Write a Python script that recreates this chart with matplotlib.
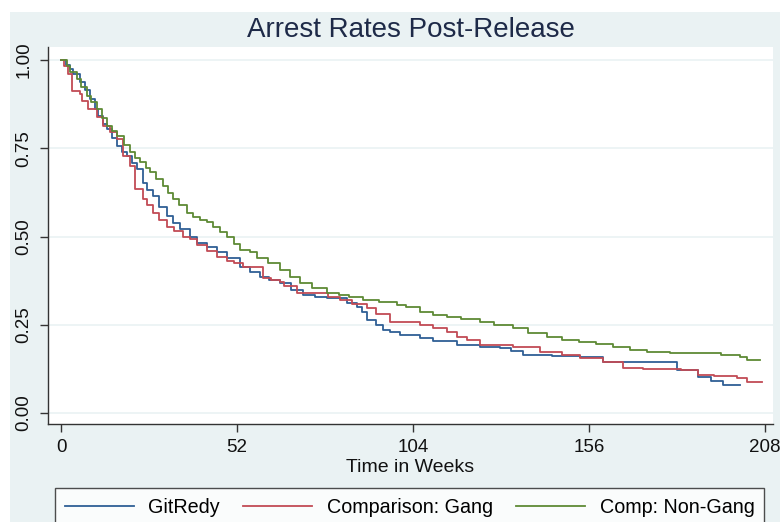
import matplotlib
matplotlib.use("Agg")
import matplotlib.pyplot as plt
from matplotlib.patches import Rectangle

plt.rcParams['font.family'] = ['Liberation Sans', 'DejaVu Sans']

# ---------------- data (Kaplan-Meier survival estimates) -----------
weeks_git = [0, 1.5, 2.7, 3.5, 5.6, 7, 8.6, 10, 11, 12.3, 13.6, 15, 16.5, 18, 19.5, 21,
             22.4, 24.2, 25.5, 27.2, 29, 31.3, 33, 35.2, 38, 40.2, 43, 46, 49, 52.9,
             55.8, 58.8, 61.5, 64.7, 68, 71.5, 75, 78.6, 84.5, 87.4, 89, 90.4, 93, 95,
             97.2, 100, 106, 110, 117, 123.8, 129.7, 133, 136.5, 145, 153.3, 160, 167,
             172, 177.5, 182, 188, 192, 195.6, 200.6]
surv_git = [1.0, 0.985, 0.974, 0.96, 0.9375, 0.915, 0.889, 0.862, 0.841, 0.82, 0.804,
            0.78, 0.756, 0.74, 0.727, 0.708, 0.69, 0.653, 0.632, 0.614, 0.585, 0.557,
            0.538, 0.52, 0.5, 0.483, 0.47, 0.455, 0.44, 0.415, 0.40, 0.386, 0.376,
            0.369, 0.35, 0.335, 0.33, 0.327, 0.3125, 0.301, 0.285, 0.264, 0.25, 0.236,
            0.23, 0.222, 0.213, 0.205, 0.193, 0.1875, 0.185, 0.175, 0.165, 0.162,
            0.159, 0.145, 0.145, 0.145, 0.145, 0.122, 0.102, 0.09, 0.08, 0.08]

weeks_gang = [0, 1, 2, 3.2, 5.6, 6.2, 8, 10.6, 12.4, 14.5, 16.5, 18.3, 20.4, 21.9, 24.2,
              25.5, 27.2, 29, 31.3, 33.5, 36, 38, 40.2, 43, 46, 49, 51, 53.8, 59.7, 62,
              64.7, 66, 69.7, 76.5, 79, 82.4, 86, 90.4, 93, 97.2, 106, 110, 114, 117,
              120, 123.8, 133.5, 141.5, 148, 153.3, 160, 166, 172, 183, 188, 193, 199.7,
              202.6, 207]
surv_gang = [1.0, 0.983, 0.96, 0.912, 0.903, 0.884, 0.861, 0.84, 0.8125, 0.795, 0.776,
             0.727, 0.699, 0.634, 0.605, 0.59, 0.568, 0.548, 0.528, 0.515, 0.5, 0.492,
             0.475, 0.46, 0.443, 0.432, 0.425, 0.415, 0.384, 0.378, 0.372, 0.36, 0.341,
             0.341, 0.33, 0.321, 0.31, 0.298, 0.28, 0.259, 0.25, 0.24, 0.23, 0.215,
             0.207, 0.193, 0.1875, 0.173, 0.165, 0.156, 0.145, 0.128, 0.125, 0.122,
             0.108, 0.105, 0.099, 0.088, 0.088]

weeks_nongang = [0, 1.8, 2.7, 4.7, 6, 7.7, 9, 10.6, 12, 13.6, 15, 16.5, 18.5, 20.4, 22,
                 23.3, 25, 26.3, 28, 30.1, 31.5, 33, 35, 37.2, 39, 41, 43.1, 45, 47, 49,
                 51, 52.9, 55.8, 58, 61, 64.7, 67.6, 70.6, 74, 78.6, 82, 85, 89.2, 94,
                 99.3, 102, 106, 110, 114, 118, 123.8, 128, 133.5, 138, 143.6, 148, 153,
                 158, 163, 168, 173, 180, 186, 190.8, 195, 200.6, 202.6, 206.5]
surv_nongang = [1.0, 0.983, 0.966, 0.946, 0.925, 0.898, 0.88, 0.861, 0.835, 0.8125, 0.8,
                0.784, 0.76, 0.739, 0.722, 0.71, 0.695, 0.682, 0.662, 0.642, 0.622,
                0.605, 0.588, 0.568, 0.556, 0.548, 0.54, 0.528, 0.512, 0.5, 0.48, 0.463,
                0.455, 0.44, 0.424, 0.406, 0.386, 0.369, 0.355, 0.341, 0.335, 0.33,
                0.321, 0.315, 0.307, 0.3, 0.287, 0.278, 0.273, 0.266, 0.259, 0.25,
                0.241, 0.228, 0.216, 0.208, 0.202, 0.195, 0.1875, 0.18, 0.173, 0.171,
                0.171, 0.17, 0.165, 0.159, 0.15, 0.15]

series_labels = ["GitRedy", "Comparison: Gang", "Comp: Non-Gang"]
x_ticks = [0, 52, 104, 156, 208]
y_ticks = [0.00, 0.25, 0.50, 0.75, 1.00]
title = "Arrest Rates Post-Release"
x_label = "Time in Weeks"

# ---------------- figure -----------------
W, H = 780, 522
fig = plt.figure(figsize=(W / 100, H / 100), dpi=100, facecolor="white")
bg = "#EAF2F3"
fig.patches.append(Rectangle((10 / W, 0), 1 - 10 / W, 1 - 12 / H,
                             transform=fig.transFigure, facecolor=bg,
                             edgecolor="none", zorder=-10))

left, right, top, bottom = 48, 773, 47, 424
ax = fig.add_axes([left / W, 1 - bottom / H, (right - left) / W, (bottom - top) / H])
ax.set_facecolor("white")

colors = ["#2F5F95", "#C24B55", "#5E8A35"]
series = [(weeks_git, surv_git), (weeks_gang, surv_gang), (weeks_nongang, surv_nongang)]
handles = []
for (t, s), c, lab in zip(series, colors, series_labels):
    h, = ax.step(t, s, where="post", color=c, lw=1.3, label=lab, zorder=3)
    handles.append(h)

ax.set_xlim(-3.84, 210.3)
ax.set_ylim(-0.031, 1.037)
ax.set_xticks(x_ticks)
ax.set_xticklabels([str(v) for v in x_ticks])
ax.set_yticks(y_ticks)
ax.set_yticklabels([f"{v:.2f}" for v in y_ticks], rotation=90, va="center")
ax.grid(axis="y", color=bg, lw=1.2, zorder=0)
ax.grid(axis="x", visible=False)

for sp in ["top", "right"]:
    ax.spines[sp].set_visible(False)
for sp in ["left", "bottom"]:
    ax.spines[sp].set_color("#333333")
    ax.spines[sp].set_linewidth(1.0)
ax.tick_params(axis="both", direction="out", length=6, width=1.0, color="#333333",
               labelsize=13.5, labelcolor="#111111", pad=5)

fig.text((left + right) / 2 / W, 1 - 37 / H, title, ha="center", va="baseline",
         fontsize=20, color="#1E2A48")
fig.text((left + right) / 2 / W, 1 - 472 / H, x_label, ha="center", va="baseline",
         fontsize=14, color="#111111")

leg = fig.legend(handles=handles, labels=series_labels, loc="upper left",
                 bbox_to_anchor=(55 / W, 1 - 488 / H), ncol=3, fontsize=14.2,
                 frameon=True, fancybox=False, edgecolor="#222222",
                 handlelength=3.5, handletextpad=0.72, columnspacing=1.2,
                 borderpad=0.5, borderaxespad=0)
leg.get_frame().set_linewidth(1.0)
leg.get_frame().set_facecolor("white")

fig.savefig("out.png", dpi=100, facecolor="white")
